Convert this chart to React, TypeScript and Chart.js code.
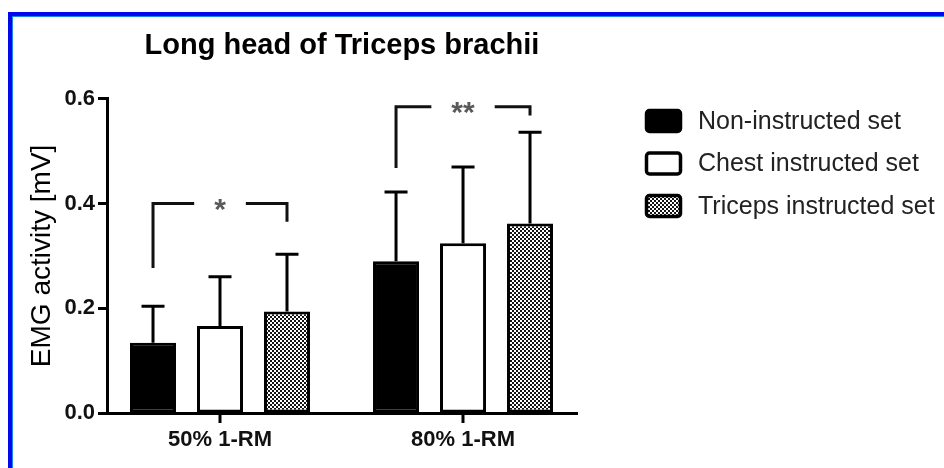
import React, { useEffect, useRef } from 'react';
import { Chart, registerables } from 'chart.js';

Chart.register(...registerables);

const categories = ['50% 1-RM', '80% 1-RM'];
const seriesLabels = ['Non-instructed set', 'Chest instructed set', 'Triceps instructed set'];
const nonInstructedMean = [0.134, 0.29];
const nonInstructedSD = [0.07, 0.132];
const chestMean = [0.166, 0.324];
const chestSD = [0.094, 0.146];
const tricepsMean = [0.194, 0.362];
const tricepsSD = [0.109, 0.174];
const yTickValues = [0, 0.2, 0.4, 0.6];
const bracketLabels = ['*', '**'];
const bracketTop = [0.4, 0.585];
const bracketLeftEnd = [0.277, 0.468];
const bracketRightEnd = [0.365, 0.568];

const FONT = "'Liberation Sans', Arial, Helvetica, sans-serif";

function makePattern(ctx: CanvasRenderingContext2D): CanvasPattern | string {
  const c = document.createElement('canvas');
  c.width = 4;
  c.height = 4;
  const p = c.getContext('2d');
  if (!p) return '#777';
  p.fillStyle = '#141414';
  p.fillRect(0, 0, 4, 4);
  p.fillStyle = '#ffffff';
  p.fillRect(0, 0, 2, 2);
  p.fillRect(2, 2, 2, 2);
  return ctx.createPattern(c, 'repeat') || '#777';
}

const xTickMarkPlugin = {
  id: 'xTickMarks',
  afterDraw(chart: any) {
    const ctx = chart.ctx;
    const xs = chart.scales.x;
    const bottom = chart.chartArea.bottom;
    ctx.save();
    ctx.fillStyle = '#000';
    categories.forEach((_, i) => {
      const p = Math.round(xs.getPixelForValue(i));
      ctx.fillRect(p - 1.5, bottom, 3, 10);
    });
    ctx.restore();
  },
};

const errorBarPlugin = {
  id: 'errorBars',
  afterDatasetsDraw(chart: any) {
    const ctx = chart.ctx;
    const yScale = chart.scales.y;
    ctx.save();
    ctx.strokeStyle = '#000';
    ctx.lineWidth = 3;
    ctx.lineCap = 'butt';
    chart.data.datasets.forEach((ds: any, i: number) => {
      const meta = chart.getDatasetMeta(i);
      meta.data.forEach((bar: any, j: number) => {
        const v = ds.data[j].y;
        const sd = ds.errors[j];
        const yTop = yScale.getPixelForValue(v + sd);
        ctx.beginPath();
        ctx.moveTo(bar.x, bar.y);
        ctx.lineTo(bar.x, yTop);
        ctx.moveTo(bar.x - 11.5, yTop);
        ctx.lineTo(bar.x + 11.5, yTop);
        ctx.stroke();
      });
    });
    ctx.restore();
  },
};

const bracketPlugin = {
  id: 'brackets',
  afterDraw(chart: any) {
    const ctx = chart.ctx;
    const yScale = chart.scales.y;
    const first = chart.getDatasetMeta(0);
    const last = chart.getDatasetMeta(chart.data.datasets.length - 1);
    ctx.save();
    ctx.font = `bold 30px ${FONT}`;
    categories.forEach((_, j) => {
      const xL = first.data[j].x;
      const xR = last.data[j].x;
      const yT = yScale.getPixelForValue(bracketTop[j]);
      const yL = yScale.getPixelForValue(bracketLeftEnd[j]);
      const yR = yScale.getPixelForValue(bracketRightEnd[j]);
      const mid = (xL + xR) / 2;
      const w = ctx.measureText(bracketLabels[j]).width;
      const gap = w / 2 + 20;
      ctx.strokeStyle = '#111';
      ctx.lineWidth = 3;
      ctx.lineJoin = 'miter';
      ctx.beginPath();
      ctx.moveTo(xL, yL);
      ctx.lineTo(xL, yT);
      ctx.lineTo(mid - gap, yT);
      ctx.moveTo(mid + gap, yT);
      ctx.lineTo(xR, yT);
      ctx.lineTo(xR, yR);
      ctx.stroke();
      ctx.fillStyle = '#5a5a5a';
      ctx.textAlign = 'center';
      ctx.textBaseline = 'alphabetic';
      ctx.fillText(bracketLabels[j], mid, yT + 15.5);
    });
    ctx.restore();
  },
};

const legendPlugin = {
  id: 'customLegend',
  afterDraw(chart: any) {
    const ctx = chart.ctx;
    ctx.save();
    chart.data.datasets.forEach((ds: any, i: number) => {
      const cy = 121 + i * 42.5;
      const bx = 645;
      const bw = 37;
      const bh = 21;
      ctx.beginPath();
      (ctx as any).roundRect(bx + 1.5, cy - bh / 2, bw - 3, bh, 3);
      ctx.fillStyle = ds.backgroundColor;
      ctx.fill();
      ctx.lineWidth = 3.5;
      ctx.strokeStyle = '#000';
      ctx.stroke();
      ctx.fillStyle = '#222';
      ctx.font = `25px ${FONT}`;
      ctx.textAlign = 'left';
      ctx.textBaseline = 'middle';
      ctx.fillText(ds.label, 698, cy + 1);
    });
    ctx.restore();
  },
};

export default function App() {
  const canvasRef = useRef<HTMLCanvasElement | null>(null);

  useEffect(() => {
    const canvas = canvasRef.current;
    if (!canvas) return;
    const ctx = canvas.getContext('2d');
    if (!ctx) return;
    const pattern = makePattern(ctx);
    const toPoints = (arr: number[]) => arr.map((y, i) => ({ x: i, y }));
    const common = {
      borderColor: '#000',
      borderWidth: 3,
      borderSkipped: false,
      categoryPercentage: 0.827,
      barPercentage: 0.687,
    };
    const chart = new Chart(canvas, {
      type: 'bar',
      data: {
        datasets: [
          { ...common, label: seriesLabels[0], data: toPoints(nonInstructedMean), backgroundColor: '#000', errors: nonInstructedSD } as any,
          { ...common, label: seriesLabels[1], data: toPoints(chestMean), backgroundColor: '#fff', errors: chestSD } as any,
          { ...common, label: seriesLabels[2], data: toPoints(tricepsMean), backgroundColor: pattern, errors: tricepsSD } as any,
        ],
      },
      options: {
        responsive: false,
        animation: false,
        devicePixelRatio: 1,
        layout: { padding: { left: 0, right: 367, top: 0, bottom: 0 } },
        font: { family: FONT },
        plugins: {
          legend: { display: false },
          tooltip: { enabled: false },
          title: {
            display: true,
            text: 'Long head of Triceps brachii',
            fullSize: false,
            color: '#000',
            font: { family: FONT, size: 29, weight: 'bold', lineHeight: 1.2 },
            padding: { top: 29, bottom: 35 },
          },
        },
        scales: {
          x: {
            type: 'linear',
            min: -0.465,
            max: 1.469,
            offset: false,
            afterBuildTicks: (s: any) => {
              s.ticks = categories.map((_, i) => ({ value: i }));
            },
            afterFit: (s: any) => {
              s.height = 55;
            },
            ticks: {
              autoSkip: false,
              maxRotation: 0,
              padding: 14,
              color: '#111',
              font: { family: FONT, size: 22, weight: 'bold' },
              callback: (v: any) => categories[Math.round(Number(v))] ?? '',
            },
            grid: { display: false, drawTicks: false, tickLength: 0 },
            border: { display: true, width: 3, color: '#000' },
          },
          y: {
            min: 0,
            max: 0.6,
            afterBuildTicks: (s: any) => {
              s.ticks = yTickValues.map((v) => ({ value: v }));
            },
            afterFit: (s: any) => {
              s.width = 107;
            },
            ticks: {
              padding: 3,
              color: '#111',
              font: { family: FONT, size: 22, weight: 'bold' },
              callback: (v: any) => Number(v).toFixed(1),
            },
            grid: { drawOnChartArea: false, drawTicks: true, tickLength: 9, tickWidth: 3, tickColor: '#000' },
            border: { display: true, width: 3, color: '#000' },
            title: {
              display: true,
              text: 'EMG activity [mV]',
              color: '#000',
              font: { family: FONT, size: 28, lineHeight: 1.2 },
              padding: { top: 25, bottom: 0 },
            },
          },
        },
      } as any,
      plugins: [errorBarPlugin, bracketPlugin, legendPlugin, xTickMarkPlugin],
    });
    return () => chart.destroy();
  }, []);

  return (
    <div style={{ position: 'fixed', left: 0, top: 0, width: 944, height: 468, background: '#fff', overflow: 'hidden' }}>
      <div
        style={{
          position: 'absolute',
          left: 8,
          top: 12,
          width: 960,
          height: 480,
          borderTop: '4px solid #0008ee',
          borderLeft: '4px solid #0008ee',
          boxShadow: 'inset 1px 1px 0 0 #1f86e0',
        }}
      />
      <canvas ref={canvasRef} width={944} height={468} style={{ position: 'absolute', left: 0, top: 0, width: 944, height: 468 }} />
    </div>
  );
}
